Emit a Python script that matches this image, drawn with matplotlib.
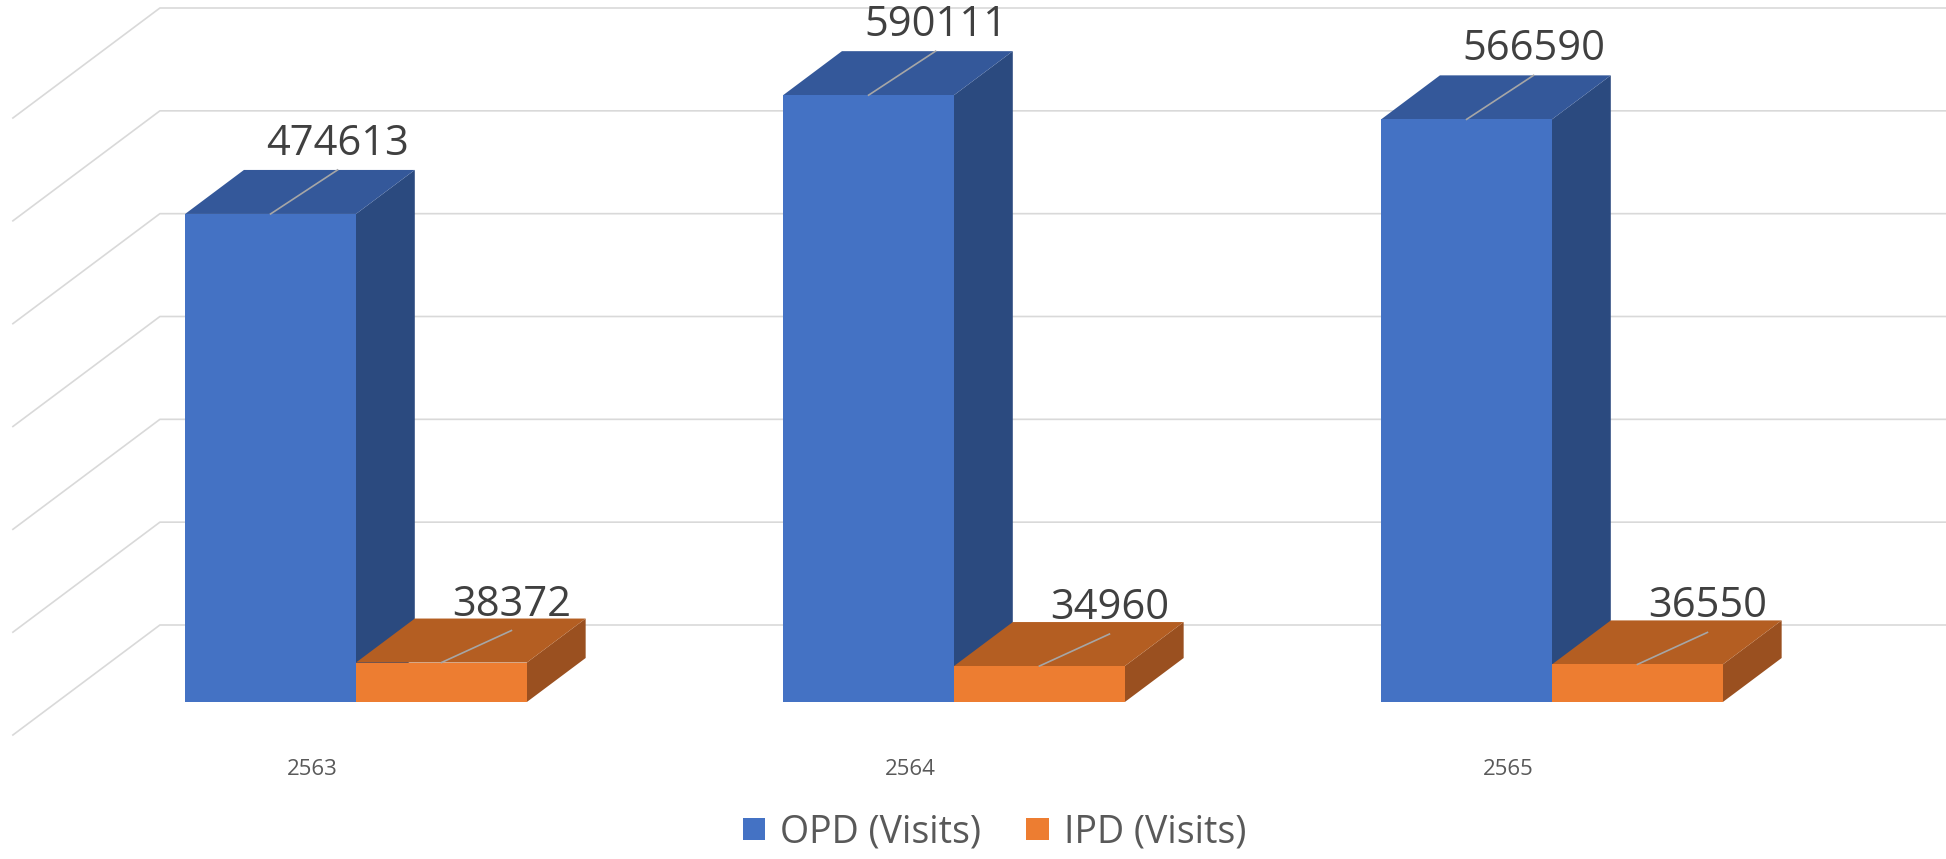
import numpy as np
import matplotlib.pyplot as plt
from matplotlib.patches import Polygon, Patch

# ---------------- data ----------------
years = ['2563', '2564', '2565']
opd_visits = [474613, 590111, 566590]
ipd_visits = [38372, 34960, 36550]
series_names = ['OPD (Visits)', 'IPD (Visits)']

y_max = 600000
y_step = 100000

# ---------------- style ----------------
W, H, DPI = 1946, 859, 100
plt.rcParams['font.family'] = ['Open Sans', 'DejaVu Sans']

face_colors = [('#4472C4', '#34589A', '#2B4A7F'),   # front, top, side
               ('#ED7D31', '#B45E22', '#9A5020')]
grid_color = '#D9D9D9'
label_color = '#404040'
axis_text_color = '#595959'

fig = plt.figure(figsize=(W / DPI, H / DPI), dpi=DPI)
# the axes box is the plane that holds the bar front faces
ax_l, ax_b, ax_w, ax_h = 57, 157, 1794, 617
ax = fig.add_axes([ax_l / W, ax_b / H, ax_w / W, ax_h / H])
n = len(years)
ax.set_xlim(-0.5, n - 0.5)
ax.set_ylim(0, y_max)
ax.axis('off')

ux = n / ax_w        # data units per pixel
uy = y_max / ax_h


def off(d):
    # oblique depth offset (fraction of floor depth) -> data units
    return 147 * d * ux, 110 * d * uy


# floor runs from depth -0.3 (front edge) to 0.7 (back wall), bars 0..0.4
fx, fy = off(-0.3)
bx, by = off(0.7)
dx, dy = off(0.4)

# ---------------- walls / gridlines ----------------
x_left = -0.5
for g in range(0, y_max + 1, y_step):
    ax.plot([x_left + fx, x_left + bx, n + 1], [g + fy, g + by, g + by],
            color=grid_color, lw=1.2, clip_on=False, zorder=0)

# ---------------- 3d bars ----------------
bar_w = 1 / 3.5
label_off = [(67, 59), (70, 47)]   # px: label x shift, baseline above top
z = 1
for i in range(n):
    for s, vals in enumerate([opd_visits, ipd_visits]):
        v = vals[i]
        x0 = i - bar_w + s * bar_w
        x1 = x0 + bar_w
        c_front, c_top, c_side = face_colors[s]
        ax.add_patch(Polygon([(x1, 0), (x1 + dx, dy), (x1 + dx, v + dy), (x1, v)],
                             closed=True, fc=c_side, lw=0, zorder=z, clip_on=False))
        ax.add_patch(Polygon([(x0, v), (x1, v), (x1 + dx, v + dy), (x0 + dx, v + dy)],
                             closed=True, fc=c_top, lw=0, zorder=z, clip_on=False))
        ax.add_patch(Polygon([(x0, 0), (x1, 0), (x1, v), (x0, v)],
                             closed=True, fc=c_front, lw=0, zorder=z, clip_on=False))
        # data label with leader line
        cx = (x0 + x1) / 2
        lx = cx + label_off[s][0] * ux
        base = v + label_off[s][1] * uy
        ax.plot([cx, lx], [v, base - 15 * uy], color='#A6A6A6', lw=1.2,
                zorder=z + 0.5, clip_on=False)
        ax.text(lx, base, f'{v}', ha='center', va='baseline', fontsize=30,
                color=label_color, zorder=z + 0.6, clip_on=False)
        z += 1

# ---------------- category labels ----------------
for i, yr in enumerate(years):
    ax.text(i + fx, fy - 40 * uy, yr, ha='center', va='baseline',
            fontsize=16, color=axis_text_color, clip_on=False)

# ---------------- legend ----------------
handles = [Patch(facecolor=face_colors[k][0], edgecolor='none', label=series_names[k])
           for k in range(2)]
fig.legend(handles=handles, loc='center', bbox_to_anchor=(0.511, 0.031), ncol=2,
           frameon=False, fontsize=27, labelcolor=axis_text_color,
           handlelength=0.6, handleheight=0.55, handletextpad=0.4,
           columnspacing=1.2)

fig.savefig('out.png', dpi=DPI)
